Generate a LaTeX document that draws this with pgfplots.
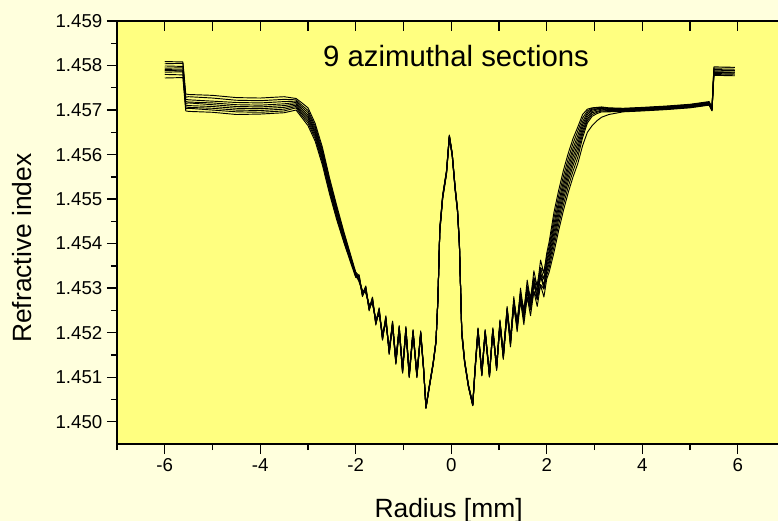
\documentclass[border=0pt]{standalone}
\usepackage{fontspec}
\setmainfont{Liberation Sans}
\usepackage{pgfplots}
\pgfplotsset{compat=1.18}
\usepackage{pgfplotstable}
\definecolor{outerbg}{RGB}{255,255,221}
\definecolor{plotbg}{RGB}{255,255,128}

\pgfplotstableread{
x a b c d e f g h i
-6.00 1.45809 1.45804 1.45799 1.45794 1.45791 1.45789 1.45785 1.45780 1.45772
-5.62 1.45808 1.45805 1.45798 1.45795 1.45790 1.45788 1.45786 1.45779 1.45773
-5.56 1.45736 1.45729 1.45724 1.45719 1.45715 1.45711 1.45707 1.45703 1.45698
-5.50 1.45735 1.45730 1.45723 1.45718 1.45716 1.45710 1.45706 1.45704 1.45697
-5.00 1.45733 1.45727 1.45720 1.45716 1.45712 1.45708 1.45704 1.45700 1.45695
-4.50 1.45728 1.45722 1.45717 1.45712 1.45708 1.45704 1.45700 1.45696 1.45690
-4.00 1.45727 1.45721 1.45716 1.45711 1.45707 1.45703 1.45699 1.45695 1.45691
-3.50 1.45730 1.45724 1.45719 1.45714 1.45710 1.45706 1.45702 1.45698 1.45694
-3.25 1.45726 1.45723 1.45720 1.45717 1.45714 1.45711 1.45708 1.45705 1.45700
-3.15 1.45718 1.45713 1.45709 1.45705 1.45701 1.45697 1.45694 1.45690 1.45686
-3.00 1.45705 1.45699 1.45694 1.45689 1.45685 1.45681 1.45676 1.45671 1.45665
-2.85 1.45670 1.45664 1.45659 1.45654 1.45650 1.45646 1.45641 1.45636 1.45630
-2.70 1.45617 1.45611 1.45606 1.45601 1.45597 1.45593 1.45588 1.45583 1.45577
-2.55 1.45548 1.45543 1.45538 1.45534 1.45530 1.45526 1.45522 1.45517 1.45512
-2.40 1.45486 1.45481 1.45477 1.45473 1.45470 1.45467 1.45463 1.45459 1.45454
-2.25 1.45427 1.45424 1.45420 1.45417 1.45415 1.45413 1.45410 1.45406 1.45403
-2.10 1.45372 1.45370 1.45367 1.45365 1.45364 1.45362 1.45360 1.45357 1.45355
-2.00 1.45336 1.45328 1.45334 1.45331 1.45325 1.45333 1.45327 1.45330 1.45324
-1.93 1.45328 1.45318 1.45324 1.45314 1.45327 1.45320 1.45330 1.45316 1.45322
-1.86 1.45283 1.45295 1.45285 1.45292 1.45281 1.45291 1.45287 1.45294 1.45284
-1.79 1.45303 1.45293 1.45299 1.45289 1.45302 1.45295 1.45305 1.45291 1.45297
-1.72 1.45251 1.45263 1.45253 1.45260 1.45249 1.45259 1.45255 1.45262 1.45252
-1.65 1.45278 1.45268 1.45274 1.45264 1.45277 1.45270 1.45280 1.45266 1.45272
-1.58 1.45219 1.45231 1.45221 1.45228 1.45217 1.45227 1.45223 1.45230 1.45220
-1.51 1.45254 1.45244 1.45250 1.45240 1.45253 1.45246 1.45256 1.45242 1.45248
-1.44 1.45185 1.45197 1.45187 1.45194 1.45183 1.45193 1.45189 1.45196 1.45186
-1.37 1.45236 1.45226 1.45232 1.45222 1.45235 1.45228 1.45238 1.45224 1.45230
-1.30 1.45153 1.45165 1.45155 1.45162 1.45151 1.45161 1.45157 1.45164 1.45154
-1.23 1.45224 1.45216 1.45222 1.45218 1.45214 1.45222 1.45226 1.45212 1.45218
-1.16 1.45138 1.45132 1.45140 1.45134 1.45130 1.45137 1.45133 1.45141 1.45129
-1.09 1.45214 1.45206 1.45212 1.45209 1.45204 1.45212 1.45216 1.45203 1.45208
-1.02 1.45118 1.45112 1.45120 1.45114 1.45110 1.45117 1.45113 1.45121 1.45109
-0.95 1.45212 1.45204 1.45210 1.45207 1.45202 1.45210 1.45214 1.45200 1.45206
-0.88 1.45108 1.45102 1.45110 1.45104 1.45100 1.45107 1.45103 1.45111 1.45099
-0.80 1.45205 1.45199 1.45204 1.45201 1.45197 1.45203 1.45207 1.45196 1.45200
-0.72 1.45106 1.45102 1.45108 1.45103 1.45100 1.45105 1.45102 1.45109 1.45099
-0.64 1.45202 1.45197 1.45201 1.45199 1.45195 1.45200 1.45204 1.45194 1.45198
-0.58 1.45122 1.45118 1.45121 1.45119 1.45117 1.45120 1.45123 1.45116 1.45119
-0.53 1.45034 1.45031 1.45033 1.45032 1.45030 1.45033 1.45035 1.45030 1.45032
-0.45 1.45087 1.45084 1.45086 1.45085 1.45083 1.45086 1.45088 1.45083 1.45085
-0.38 1.45132 1.45129 1.45131 1.45130 1.45128 1.45131 1.45133 1.45128 1.45130
-0.32 1.45182 1.45179 1.45181 1.45180 1.45178 1.45181 1.45183 1.45178 1.45180
-0.28 1.45277 1.45272 1.45275 1.45274 1.45271 1.45276 1.45278 1.45270 1.45274
-0.24 1.45434 1.45427 1.45432 1.45430 1.45426 1.45433 1.45436 1.45425 1.45430
-0.18 1.45508 1.45503 1.45506 1.45505 1.45502 1.45507 1.45509 1.45501 1.45505
-0.10 1.45563 1.45558 1.45561 1.45560 1.45557 1.45562 1.45564 1.45556 1.45560
-0.04 1.45643 1.45639 1.45642 1.45641 1.45638 1.45642 1.45644 1.45637 1.45641
0.02 1.45602 1.45598 1.45601 1.45600 1.45597 1.45601 1.45603 1.45596 1.45600
0.08 1.45528 1.45523 1.45526 1.45525 1.45522 1.45527 1.45529 1.45521 1.45525
0.13 1.45478 1.45473 1.45476 1.45475 1.45472 1.45477 1.45479 1.45471 1.45475
0.17 1.45404 1.45397 1.45402 1.45400 1.45396 1.45403 1.45406 1.45395 1.45400
0.22 1.45204 1.45197 1.45202 1.45200 1.45196 1.45203 1.45206 1.45195 1.45200
0.28 1.45137 1.45133 1.45136 1.45135 1.45132 1.45136 1.45138 1.45131 1.45135
0.36 1.45082 1.45079 1.45081 1.45080 1.45078 1.45081 1.45083 1.45078 1.45080
0.45 1.45040 1.45037 1.45039 1.45038 1.45036 1.45039 1.45041 1.45036 1.45038
0.50 1.45123 1.45117 1.45122 1.45120 1.45116 1.45122 1.45125 1.45115 1.45120
0.56 1.45209 1.45203 1.45208 1.45206 1.45202 1.45207 1.45211 1.45201 1.45205
0.64 1.45111 1.45105 1.45110 1.45108 1.45104 1.45109 1.45106 1.45112 1.45103
0.71 1.45205 1.45199 1.45204 1.45202 1.45198 1.45203 1.45207 1.45197 1.45201
0.80 1.45108 1.45102 1.45107 1.45105 1.45101 1.45106 1.45103 1.45109 1.45100
0.87 1.45209 1.45203 1.45208 1.45206 1.45202 1.45207 1.45211 1.45201 1.45205
0.95 1.45126 1.45118 1.45124 1.45122 1.45117 1.45125 1.45120 1.45128 1.45115
1.02 1.45226 1.45218 1.45224 1.45222 1.45217 1.45225 1.45229 1.45215 1.45221
1.09 1.45153 1.45144 1.45150 1.45148 1.45142 1.45152 1.45146 1.45156 1.45140
1.17 1.45256 1.45245 1.45253 1.45250 1.45243 1.45254 1.45259 1.45240 1.45249
1.24 1.45186 1.45174 1.45183 1.45180 1.45172 1.45185 1.45177 1.45190 1.45168
1.31 1.45281 1.45269 1.45273 1.45262 1.45273 1.45264 1.45273 1.45257 1.45261
1.38 1.45219 1.45228 1.45216 1.45221 1.45208 1.45216 1.45210 1.45215 1.45202
1.45 1.45300 1.45287 1.45290 1.45278 1.45288 1.45278 1.45286 1.45269 1.45272
1.52 1.45245 1.45253 1.45239 1.45243 1.45229 1.45236 1.45229 1.45232 1.45218
1.59 1.45318 1.45303 1.45305 1.45292 1.45301 1.45290 1.45297 1.45279 1.45280
1.66 1.45273 1.45280 1.45265 1.45268 1.45253 1.45259 1.45251 1.45253 1.45238
1.73 1.45339 1.45323 1.45324 1.45310 1.45318 1.45306 1.45312 1.45293 1.45293
1.80 1.45302 1.45308 1.45292 1.45294 1.45278 1.45283 1.45274 1.45275 1.45259
1.87 1.45363 1.45346 1.45345 1.45330 1.45337 1.45324 1.45329 1.45308 1.45307
1.94 1.45333 1.45337 1.45320 1.45321 1.45304 1.45308 1.45298 1.45298 1.45280
2.00 1.45379 1.45371 1.45363 1.45357 1.45350 1.45343 1.45337 1.45329 1.45321
2.05 1.45404 1.45394 1.45385 1.45378 1.45370 1.45362 1.45355 1.45346 1.45336
2.15 1.45470 1.45457 1.45445 1.45435 1.45425 1.45415 1.45405 1.45393 1.45380
2.25 1.45520 1.45507 1.45495 1.45485 1.45475 1.45465 1.45455 1.45443 1.45430
2.35 1.45565 1.45552 1.45540 1.45530 1.45520 1.45510 1.45500 1.45488 1.45475
2.45 1.45603 1.45591 1.45580 1.45570 1.45560 1.45550 1.45540 1.45528 1.45515
2.55 1.45636 1.45625 1.45614 1.45605 1.45595 1.45585 1.45575 1.45563 1.45550
2.65 1.45662 1.45653 1.45643 1.45634 1.45625 1.45616 1.45606 1.45594 1.45580
2.75 1.45690 1.45682 1.45674 1.45667 1.45660 1.45653 1.45646 1.45638 1.45620
2.85 1.45702 1.45698 1.45694 1.45690 1.45685 1.45680 1.45676 1.45671 1.45650
2.95 1.45705 1.45704 1.45702 1.45700 1.45697 1.45694 1.45690 1.45686 1.45665
3.05 1.45706 1.45705 1.45703 1.45702 1.45700 1.45697 1.45695 1.45692 1.45676
3.15 1.45707 1.45706 1.45705 1.45704 1.45702 1.45700 1.45698 1.45696 1.45684
3.30 1.45705 1.45704 1.45703 1.45701 1.45700 1.45699 1.45697 1.45696 1.45690
3.60 1.45704 1.45703 1.45702 1.45701 1.45700 1.45699 1.45698 1.45697 1.45696
4.00 1.45706 1.45705 1.45704 1.45703 1.45702 1.45701 1.45700 1.45699 1.45698
4.50 1.45709 1.45708 1.45707 1.45706 1.45705 1.45704 1.45703 1.45702 1.45701
5.00 1.45713 1.45712 1.45711 1.45710 1.45709 1.45708 1.45707 1.45706 1.45705
5.40 1.45719 1.45718 1.45717 1.45716 1.45715 1.45714 1.45713 1.45712 1.45711
5.46 1.45706 1.45705 1.45704 1.45703 1.45702 1.45701 1.45700 1.45699 1.45698
5.50 1.45797 1.45794 1.45791 1.45788 1.45786 1.45784 1.45782 1.45780 1.45778
5.94 1.45796 1.45795 1.45790 1.45789 1.45785 1.45785 1.45781 1.45781 1.45777
}\data

\begin{document}
\begin{tikzpicture}
\fill[outerbg] (-87.75pt,-57.75pt) rectangle (495.75pt,333pt);
\begin{axis}[
  at={(0,0)}, anchor=south west,
  scale only axis, width=501.4pt, height=317.25pt,
  xmin=-7, xmax=7, ymin=1.4495, ymax=1.459,
  axis background/.style={fill=plotbg},
  xtick={-6,-4,-2,0,2,4,6}, xticklabels={-6,-4,-2,0,2,4,6},
  minor xtick={-7,-5,-3,-1,1,3,5,7},
  ytick={1.450,1.451,1.452,1.453,1.454,1.455,1.456,1.457,1.458,1.459},
  yticklabels={1.450,1.451,1.452,1.453,1.454,1.455,1.456,1.457,1.458,1.459},
  minor ytick={1.4505,1.4515,1.4525,1.4535,1.4545,1.4555,1.4565,1.4575,1.4585},
  xtick pos=left, ytick pos=left,
  tick align=outside,
  major tick length=7.5pt, minor tick length=4.5pt,
  every tick/.style={black, line width=1pt},
  axis line style={line width=1.2pt},
  tick label style={font=\fontsize{14}{16}\selectfont},
  label style={font=\fontsize{19.8}{24}\selectfont},
  xlabel={Radius [mm]}, ylabel={Refractive index},
  xlabel style={at={(axis description cs:0.496,-0.1726)}, anchor=base},
  ylabel style={at={(axis description cs:-0.1425,0.463)}, anchor=center},
]
\pgfplotsinvokeforeach{a,b,c,d,e,f,g,h,i}{
  \addplot[black, line width=0.7pt, line join=round] table[x=x, y=#1] {\data};
}
\node[anchor=base, font=\fontsize{22}{26}\selectfont] at (axis cs:0.10,1.45797) {9 azimuthal sections};
\end{axis}
\begin{axis}[
  at={(0,0)}, anchor=south west,
  scale only axis, width=501.4pt, height=317.25pt,
  xmin=-7, xmax=7, ymin=0, ymax=1,
  axis x line*=top, axis y line=none,
  xtick={-6,-5,-4,-3,-2,-1,0,1,2,3,4,5,6}, xticklabels={},
  tick align=inside, major tick length=7.5pt,
  every tick/.style={black, line width=1pt},
  axis line style={line width=1.2pt},
]
\end{axis}
\pgfresetboundingbox
\path (-87.75pt,-57.75pt) rectangle (495.75pt,333pt);
\end{tikzpicture}
\end{document}
